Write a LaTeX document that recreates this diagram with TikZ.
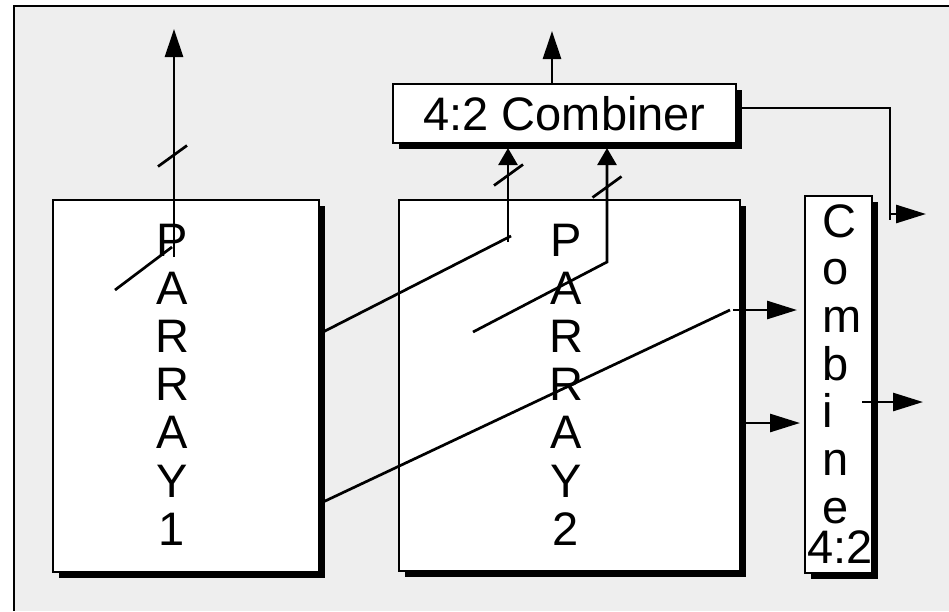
\documentclass[tikz,border=0pt]{standalone}
\usepackage{fontspec}
\setmainfont{Liberation Sans}
\usetikzlibrary{arrows.meta,shadows}
\definecolor{panelgray}{RGB}{238,238,238}
\tikzset{
  blk/.style={draw=black, fill=white, line width=2pt, inner sep=0pt,
    drop shadow={shadow xshift=6pt, shadow yshift=-6pt, fill=black, opacity=1}},
  ltr/.style={anchor=base, inner sep=0pt, font=\fontsize{47}{56}\selectfont},
  wire/.style={line width=2.7pt},
  upar/.style={wire, -{Triangle[length=28pt,width=18pt]}},
  upsm/.style={wire, -{Triangle[length=17pt,width=19pt]}},
  rtar/.style={wire, -{Triangle[length=30pt,width=18pt]}}
}
\begin{document}
\begin{tikzpicture}[x=1pt,y=-1pt]
	\useasboundingbox (0,0) rectangle (949,611);
	\fill [white] (0,0) rectangle (949,611);
	\fill [panelgray] (14,6) rectangle (949,611);
	\draw [line width=2pt] (949,6) -- (14,6) -- (14,611);
	% the blocks
	\node [blk, anchor=north west, minimum width=266pt, minimum height=372pt] (arr1) at (52,199) {};
	\node [blk, anchor=north west, minimum width=341pt, minimum height=371pt] (arr2) at (398,199) {};
	\node [blk, anchor=north west, minimum width=67pt, minimum height=377pt] (comb) at (804,195) {};
	\node [blk, minimum width=343pt, minimum height=59pt, font=\fontsize{47}{56}\selectfont] (comb42) at (564.5,113.5) {4:2 Combiner};
	% vertical labels
	\foreach \c [count=\i from 0] in {P,A,R,R,A,Y,1}
		\node [ltr] (pa\i) at (172,256+48.2*\i) {\c};
	\foreach \c [count=\i from 0] in {P,A,R,R,A,Y,2}
		\node [ltr] (pb\i) at (566,256+48.2*\i) {\c};
	\foreach \c [count=\i from 0] in {C,o,m,b,i,n,e}
		\node [ltr, anchor=base west] (cb\i) at (822,237+47.7*\i) {\c};
	\node [ltr] (cb42) at (840,563) {4:2};
	% wires
	\coordinate (s1) at (174,257);
	\coordinate (t1) at (174,29);
	\coordinate (d1) at (172,247);
	\coordinate (d2) at (115,290);
	\coordinate (a1) at (323,332);
	\coordinate (a2) at (511,236);
	\coordinate (a3) at (508,242);
	\coordinate (a4) at (508,148);
	\coordinate (b1) at (473,332);
	\coordinate (b2) at (607,262);
	\coordinate (b3) at (607,148);
	\coordinate (c1) at (323,502);
	\coordinate (c2) at (730,310);
	\coordinate (c3) at (733,310);
	\coordinate (c4) at (797,310);
	\coordinate (e1) at (746,423);
	\coordinate (e2) at (800,423);
	\coordinate (f1) at (742,108);
	\coordinate (f2) at (890,220);
	\coordinate (f3) at (890,214);
	\coordinate (f4) at (926,214);
	\coordinate (g1) at (862,402);
	\coordinate (g2) at (923,402);
	\coordinate (h1) at (552,84);
	\coordinate (h2) at (552,31);
	\coordinate (k1) at (172.5,156);
	\coordinate (k2) at (508.5,175);
	\coordinate (k3) at (607,187);
	\draw [upar] (s1) -- (t1);
	\draw [wire] (d1) -- (d2);
	\draw [wire] (a1) -- (a2);
	\draw [upsm] (a3) -- (a4);
	\draw [upsm] (b1) -- (b2) -- (b3);
	\draw [wire] (c1) -- (c2);
	\draw [rtar] (c3) -- (c4);
	\draw [rtar] (e1) -- (e2);
	\draw [wire] (f1) -| (f2);
	\draw [rtar] (f3) -- (f4);
	\draw [rtar] (g1) -- (g2);
	\draw [upar] (h1) -- (h2);
	% bus slashes
	\foreach \k in {k1,k2,k3}
		\draw [wire] (\k) ++(-14.5,10.5) -- ++(29,-21);
\end{tikzpicture}
\end{document}
